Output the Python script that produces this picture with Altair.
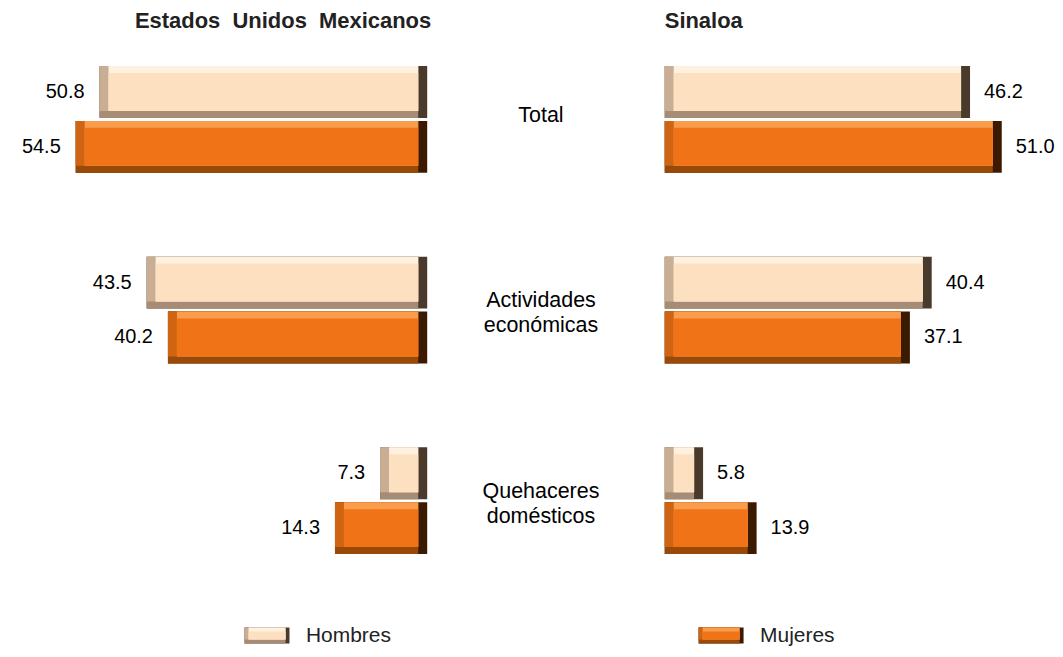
import altair as alt
import pandas as pd

# ---------------- data ----------------
categorias = ["Total", "Actividades\neconómicas", "Quehaceres\ndomésticos"]
sexos = ["Hombres", "Mujeres"]
nacional_hombres = [50.8, 43.5, 7.3]
nacional_mujeres = [54.5, 40.2, 14.3]
sinaloa_hombres = [46.2, 40.4, 5.8]
sinaloa_mujeres = [51.0, 37.1, 13.9]
titulo_nacional = "Estados Unidos Mexicanos"
titulo_estado = "Sinaloa"


def tabla(h, m):
    rows = []
    for c, vh, vm in zip(categorias, h, m):
        rows.append({"categoria": c, "sexo": "Hombres", "valor": vh})
        rows.append({"categoria": c, "sexo": "Mujeres", "valor": vm})
    return pd.DataFrame(rows)


df_nac = tabla(nacional_hombres, nacional_mujeres)
df_sin = tabla(sinaloa_hombres, sinaloa_mujeres)
df_cat = pd.DataFrame({"categoria": categorias})
df_leg = pd.DataFrame({"sexo": sexos})

# ---------------- style ----------------
FONT = "Liberation Sans"
H = 604
BAR = 52
HALF = 27.5
BX, BY = 9, 7
PAL = {
    "Hombres": {"R": "#4a3a2c", "B": "#a68c74", "L": "#c9ae94", "T": "#fff1e0", "C": "#fde0c0"},
    "Mujeres": {"R": "#3c1a02", "B": "#9a4a08", "L": "#cf6412", "T": "#f99c4c", "C": "#f07417"},
}
# facet, left inset, right inset, top inset, bottom inset (pixels on screen)
FACETS = [("R", 0, 0, 0, 0), ("B", 0, BX, 0, 0), ("L", 0, BX, 0, BY),
          ("T", BX, BX, 0, BY), ("C", BX, BX, BY, BY)]

Y = alt.Y("categoria:N", sort=categorias,
          scale=alt.Scale(type="band", domain=categorias, paddingInner=0.44, paddingOuter=0.301),
          axis=None)


def panel(df, xmax, width, reverse, title, title_x, title_align, label_dx):
    u = xmax / width  # data units per pixel
    sc = alt.Scale(domain=[0, xmax], reverse=reverse, nice=False, zero=True)
    base = alt.Chart(df)
    layers = []
    for i, s in enumerate(sexos):
        centre = -HALF if i == 0 else HALF
        for key, l, r, t, b in FACETS:
            end_in, zero_in = (l, r) if reverse else (r, l)
            layers.append(
                base.transform_filter(alt.datum.sexo == s)
                .transform_calculate(xa=alt.datum.valor - end_in * u, xb=f"{zero_in * u}")
                .mark_bar(size=BAR - t - b, yOffset=centre + (t - b) / 2,
                          color=PAL[s][key], opacity=1)
                .encode(x=alt.X("xa:Q", scale=sc, axis=None), x2="xb:Q", y=Y)
            )
    for i, s in enumerate(sexos):
        centre = -HALF if i == 0 else HALF
        layers.append(
            base.transform_filter(alt.datum.sexo == s).mark_text(
                align="right" if reverse else "left", baseline="middle",
                dx=label_dx, yOffset=centre, fontSize=20, font=FONT, color="#000000",
            ).encode(x=alt.X("valor:Q", scale=sc, axis=None), y=Y,
                     text=alt.Text("valor:Q", format=".1f"))
        )
    layers.append(
        alt.Chart(pd.DataFrame({"t": [title.replace(" ", "\u00a0\u00a0")]})).mark_text(
            align=title_align, baseline="middle", fontSize=22, fontWeight="bold",
            font=FONT, color="#222222",
        ).encode(text="t:N", x=alt.value(title_x), y=alt.value(12))
    )
    return alt.layer(*layers).properties(width=width, height=H)


izq = panel(df_nac, 65, 420, True, titulo_nacional, 424, "right", -15)
der = panel(df_sin, 58, 384, False, titulo_estado, 0, "left", 14)

multilinea = "indexof(datum.categoria, '\\n') >= 0"
cat_base = alt.Chart(df_cat)
centro = alt.layer(
    cat_base.transform_filter(f"!({multilinea})").mark_text(
        fontSize=21.5, font=FONT, baseline="middle", align="center", color="#000000", dy=-3,
    ).encode(y=Y, x=alt.value(110), text="categoria:N"),
    cat_base.transform_filter(multilinea).mark_text(
        fontSize=21.5, font=FONT, lineBreak="\n", lineHeight=25,
        baseline="middle", align="center", color="#000000", dy=-9,
    ).encode(y=Y, x=alt.value(110), text="categoria:N"),
).properties(width=234, height=H)

# ---------------- legend ----------------
LX = alt.X("sexo:N", sort=sexos, axis=None,
           scale=alt.Scale(domain=sexos, paddingInner=0.901, paddingOuter=0.5209))
SW, SH = 45, 16
LB = 4
leg_layers = []
for s in sexos:
    for key, l, r, t, b in [("R", 0, 0, 0, 0), ("B", 0, LB, 0, 0), ("L", 0, LB, 0, LB),
                            ("T", LB, LB, 0, LB), ("C", LB, LB, LB, LB)]:
        leg_layers.append(
            alt.Chart(df_leg).transform_filter(alt.datum.sexo == s).mark_bar(
                size=SW - l - r, xOffset=(l - r) / 2, color=PAL[s][key],
            ).encode(x=LX, y=alt.value(t), y2=alt.value(SH - b))
        )
leg_layers.append(
    alt.Chart(df_leg).mark_text(
        align="left", baseline="middle", dx=39, fontSize=21, font=FONT, color="#222222",
    ).encode(x=LX, y=alt.value(SH / 2 + 1), text="sexo:N")
)
leyenda = alt.layer(*leg_layers).properties(width=974, height=SH)

chart = alt.vconcat(
    alt.hconcat(izq, centro, der, spacing=0),
    leyenda,
    spacing=14,
).properties(padding=0).configure_view(stroke=None)

chart.save("out.html", embed_options={"renderer": "svg", "actions": False})
